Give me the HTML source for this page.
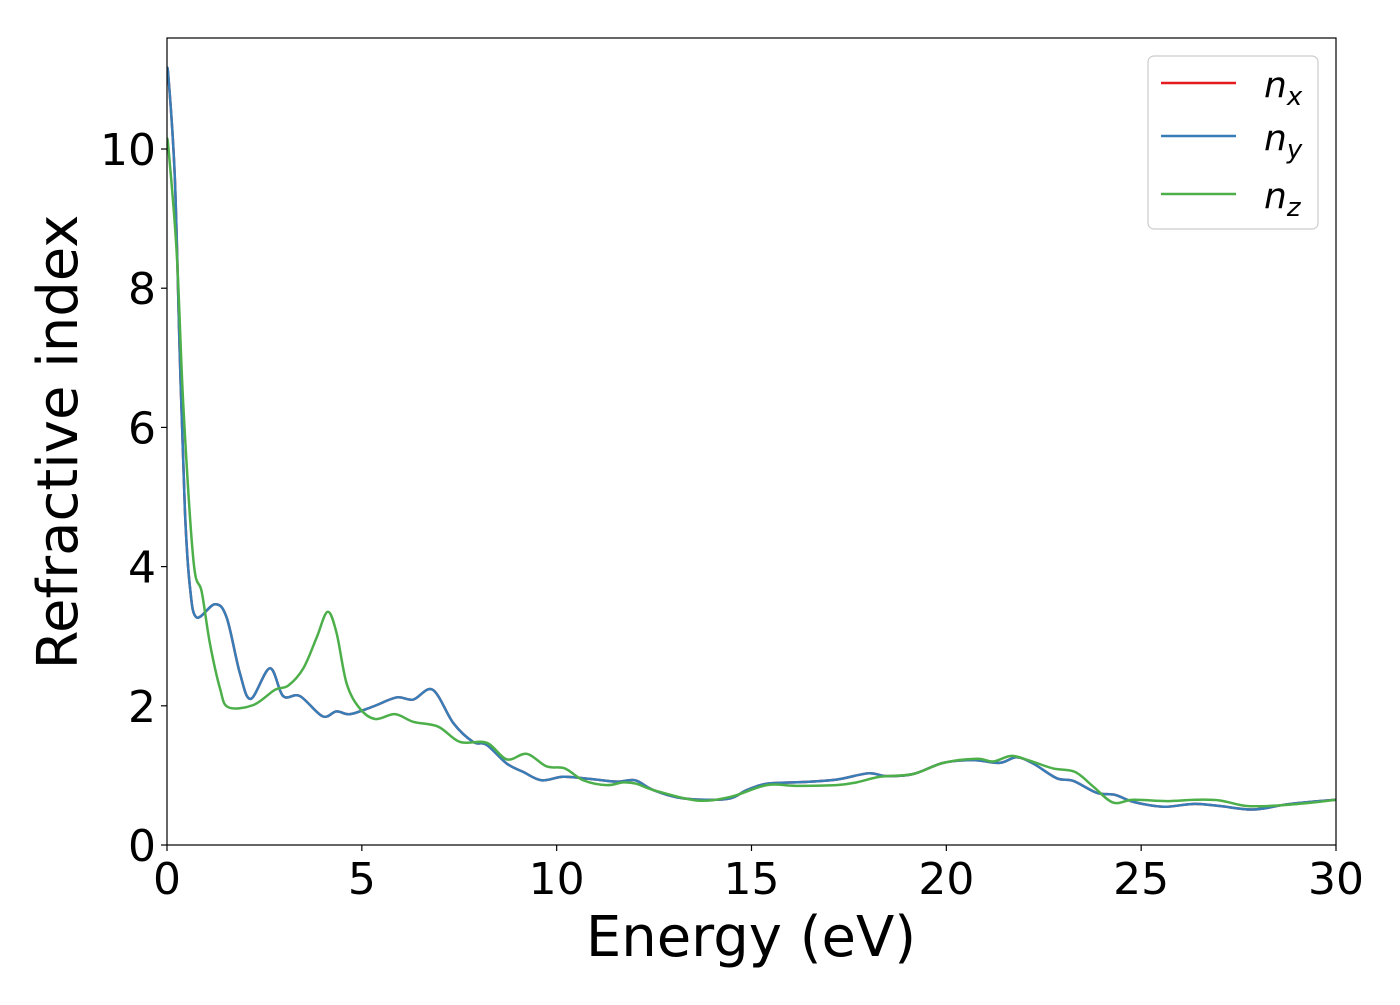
<!DOCTYPE html>
<html><head><meta charset="utf-8"><style>
body{margin:0;background:#fff}
svg text{font-family:"DejaVu Sans","Liberation Sans",sans-serif}
</style></head><body>
<svg id="chart" width="1400" height="1000" viewBox="0 0 1400 1000" xmlns="http://www.w3.org/2000/svg">
<rect x="0" y="0" width="1400" height="1000" fill="#fff"/>
<g id="series"></g>
<rect x="167" y="38" width="1169" height="807" fill="none" stroke="#000" stroke-width="1.2"/>
<g id="xticks"></g>
<g id="yticks"></g>
<text x="751" y="956" font-size="56" text-anchor="middle">Energy (eV)</text>
<text transform="translate(77,442) rotate(-90)" font-size="56" text-anchor="middle">Refractive index</text>
<g>
<rect x="1148" y="56" width="170" height="173" rx="6" fill="#fff" stroke="#ccc" stroke-width="1.2"/>
<g><line x1="1161" y1="83" x2="1236" y2="83" stroke="#e41a1c" stroke-width="2.5"/><text x="1264" y="97" font-size="36" font-style="italic">n<tspan font-size="26" dy="8">x</tspan></text></g>
<g><line x1="1161" y1="136" x2="1236" y2="136" stroke="#377eb8" stroke-width="2.5"/><text x="1264" y="150" font-size="36" font-style="italic">n<tspan font-size="26" dy="8">y</tspan></text></g>
<g><line x1="1161" y1="194" x2="1236" y2="194" stroke="#4daf4a" stroke-width="2.5"/><text x="1264" y="208" font-size="36" font-style="italic">n<tspan font-size="26" dy="8">z</tspan></text></g>
</g>
</svg>
<script>
const xTicks=[0,5,10,15,20,25,30];
const yTicks=[0,2,4,6,8,10];
const energyXY=[0,0.03,0.2,0.33,0.46,0.59,0.76,1.23,1.53,1.87,2.15,2.64,2.98,3.41,3.99,4.35,4.7,5.29,5.89,6.32,6.82,7.35,7.86,8.2,8.72,9.14,9.61,10.17,10.85,11.54,12.01,12.48,13.25,14.36,14.88,15.39,16.33,17.18,18.0,18.47,19.15,19.92,20.69,21.37,21.8,22.23,22.83,23.26,23.86,24.33,24.8,25.57,26.34,27.02,27.88,28.82,30];
const nyValues=[11.0,11.08,9.6,7.0,4.8,3.7,3.27,3.46,3.27,2.47,2.1,2.54,2.14,2.14,1.85,1.92,1.88,1.99,2.12,2.09,2.23,1.75,1.48,1.44,1.17,1.05,0.93,0.98,0.95,0.91,0.93,0.79,0.67,0.66,0.79,0.88,0.905,0.94,1.03,0.99,1.02,1.18,1.22,1.18,1.26,1.17,0.96,0.92,0.75,0.72,0.62,0.55,0.59,0.56,0.51,0.59,0.65];
const nxValues=nyValues.slice();
const energyZ=[0,0.03,0.25,0.42,0.68,0.89,1.1,1.36,1.57,2.21,2.77,3.11,3.5,3.84,4.12,4.35,4.61,4.95,5.34,5.85,6.32,6.96,7.52,8.2,8.72,9.23,9.74,10.21,10.68,11.28,11.71,12.05,12.48,13.59,14.45,15.39,16.16,17.18,17.7,18.3,19.15,19.92,20.78,21.2,21.67,22.15,22.74,23.3,23.77,24.28,24.8,25.65,26.4,27.02,27.71,28.56,29.4,30];
const nzValues=[10.0,10.05,8.5,6.3,4.08,3.64,2.9,2.25,1.98,2.01,2.23,2.29,2.54,2.98,3.35,3.05,2.32,1.96,1.81,1.88,1.77,1.7,1.48,1.47,1.23,1.31,1.13,1.1,0.93,0.86,0.9,0.88,0.79,0.64,0.69,0.86,0.85,0.86,0.9,0.98,1.02,1.18,1.24,1.2,1.28,1.21,1.1,1.05,0.84,0.61,0.65,0.63,0.65,0.64,0.56,0.57,0.61,0.65];
const X0=167,X1=1336,Y0=845,Y1=38,XMAX=30,YMAX=11.595;
function xs(v){return X0+(X1-X0)*v/XMAX;}
function ys(v){return Y0-(Y0-Y1)*v/YMAX;}
const NS='http://www.w3.org/2000/svg';
function pathFor(ex,vals){
  const p=ex.map((e,i)=>[xs(e),ys(vals[i])]);
  let d='M'+p[0][0].toFixed(2)+','+p[0][1].toFixed(2);
  for(let i=0;i<p.length-1;i++){
    const a=p[Math.max(i-1,0)],b=p[i],c=p[i+1],e=p[Math.min(i+2,p.length-1)];
    const c1=[b[0]+(c[0]-a[0])/6,b[1]+(c[1]-a[1])/6];
    const c2=[c[0]-(e[0]-b[0])/6,c[1]-(e[1]-b[1])/6];
    d+='C'+c1[0].toFixed(2)+','+c1[1].toFixed(2)+' '+c2[0].toFixed(2)+','+c2[1].toFixed(2)+' '+c[0].toFixed(2)+','+c[1].toFixed(2);
  }
  return d;
}
const sg=document.getElementById('series');
const defs=document.createElementNS(NS,'clipPath');defs.setAttribute('id','clip');
const cr=document.createElementNS(NS,'rect');cr.setAttribute('x',X0);cr.setAttribute('y',Y1);cr.setAttribute('width',X1-X0);cr.setAttribute('height',Y0-Y1);
defs.appendChild(cr);sg.appendChild(defs);
sg.setAttribute('clip-path','url(#clip)');
const pnx=document.createElementNS(NS,'path');


pnx.setAttribute('d',pathFor(energyXY,nxValues));pnx.setAttribute('stroke','#e41a1c');
sg.appendChild(pnx);
const pny=document.createElementNS(NS,'path');


pny.setAttribute('d',pathFor(energyXY,nyValues));pny.setAttribute('stroke','#377eb8');
sg.appendChild(pny);
const pnz=document.createElementNS(NS,'path');


pnz.setAttribute('d',pathFor(energyZ,nzValues));pnz.setAttribute('stroke','#4daf4a');
sg.appendChild(pnz);
[pnx,pny,pnz].forEach(p=>{p.setAttribute('fill','none');p.setAttribute('stroke-width','2.5');p.setAttribute('stroke-linejoin','round');});
const xg=document.getElementById('xticks');
xTicks.forEach(t=>{
  const l=document.createElementNS(NS,'line');
  
  
  l.setAttribute('x1',xs(t));l.setAttribute('x2',xs(t));l.setAttribute('y1',Y0);l.setAttribute('y2',Y0+6);l.setAttribute('stroke','#000');l.setAttribute('stroke-width','1.2');
  xg.appendChild(l);
  const tx=document.createElementNS(NS,'text');
  
  
  tx.setAttribute('x',xs(t));tx.setAttribute('y',894);tx.setAttribute('font-size','44');tx.setAttribute('text-anchor','middle');
  tx.textContent=t;xg.appendChild(tx);
});
const yg=document.getElementById('yticks');
yTicks.forEach(t=>{
  const l=document.createElementNS(NS,'line');
  
  
  l.setAttribute('x1',X0-6);l.setAttribute('x2',X0);l.setAttribute('y1',ys(t));l.setAttribute('y2',ys(t));l.setAttribute('stroke','#000');l.setAttribute('stroke-width','1.2');
  yg.appendChild(l);
  const tx=document.createElementNS(NS,'text');
  
  
  tx.setAttribute('x',156);tx.setAttribute('y',ys(t)+16);tx.setAttribute('font-size','44');tx.setAttribute('text-anchor','end');
  tx.textContent=t;yg.appendChild(tx);
});
</script>
</body></html>
